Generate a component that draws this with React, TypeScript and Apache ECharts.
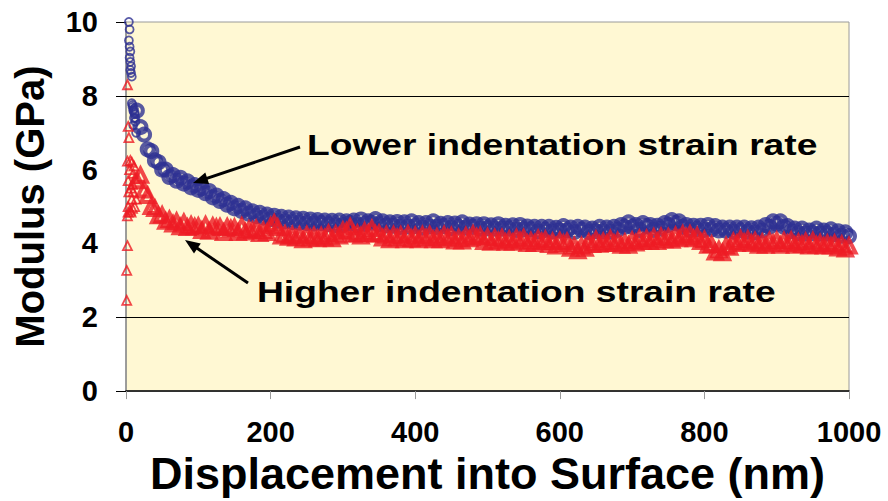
import React, { useEffect, useRef } from "react";
import * as echarts from "echarts";

// Displacement into surface (nm) sampled along the continuous test
const depthNm = [
  15, 20, 25, 30, 35, 40, 45, 50, 55, 60,
  65, 70, 75, 80, 85, 90, 95, 100, 105, 110,
  115, 120, 125, 130, 135, 140, 145, 150, 155, 160,
  165, 170, 175, 180, 185, 190, 195, 200, 205, 210,
  215, 220, 225, 230, 235, 240, 245, 250, 255, 260,
  265, 270, 275, 280, 285, 290, 295, 300, 305, 310,
  315, 320, 325, 330, 335, 340, 345, 350, 355, 360,
  365, 370, 375, 380, 385, 390, 395, 400, 405, 410,
  415, 420, 425, 430, 435, 440, 445, 450, 455, 460,
  465, 470, 475, 480, 485, 490, 495, 500, 505, 510,
  515, 520, 525, 530, 535, 540, 545, 550, 555, 560,
  565, 570, 575, 580, 585, 590, 595, 600, 605, 610,
  615, 620, 625, 630, 635, 640, 645, 650, 655, 660,
  665, 670, 675, 680, 685, 690, 695, 700, 705, 710,
  715, 720, 725, 730, 735, 740, 745, 750, 755, 760,
  765, 770, 775, 780, 785, 790, 795, 800, 805, 810,
  815, 820, 825, 830, 835, 840, 845, 850, 855, 860,
  865, 870, 875, 880, 885, 890, 895, 900, 905, 910,
  915, 920, 925, 930, 935, 940, 945, 950, 955, 960,
  965, 970, 975, 980, 985, 990, 995, 1000,
];

// Modulus (GPa), lower indentation strain rate
const lowerRateModulus = [
  7.6, 7.15, 6.95, 6.55, 6.5, 6.25, 6.2, 6.0, 6.0, 5.8,
  5.85, 5.7, 5.78, 5.62, 5.68, 5.52, 5.58, 5.45, 5.5, 5.36,
  5.42, 5.25, 5.3, 5.15, 5.2, 5.05, 5.1, 4.95, 5.02, 4.88,
  4.95, 4.8, 4.87, 4.74, 4.83, 4.7, 4.78, 4.66, 4.75, 4.62,
  4.72, 4.6, 4.7, 4.58, 4.68, 4.56, 4.67, 4.55, 4.65, 4.54,
  4.63, 4.55, 4.62, 4.52, 4.61, 4.5, 4.62, 4.5, 4.6, 4.55,
  4.62, 4.5, 4.65, 4.53, 4.6, 4.56, 4.66, 4.52, 4.6, 4.49,
  4.57, 4.48, 4.58, 4.45, 4.57, 4.46, 4.6, 4.47, 4.55, 4.43,
  4.55, 4.46, 4.6, 4.45, 4.53, 4.47, 4.55, 4.42, 4.54, 4.45,
  4.57, 4.43, 4.51, 4.45, 4.52, 4.4, 4.52, 4.41, 4.49, 4.4,
  4.52, 4.4, 4.48, 4.4, 4.49, 4.37, 4.5, 4.38, 4.46, 4.38,
  4.45, 4.33, 4.45, 4.37, 4.45, 4.33, 4.42, 4.35, 4.47, 4.35,
  4.43, 4.31, 4.45, 4.37, 4.43, 4.31, 4.4, 4.33, 4.45, 4.33,
  4.43, 4.32, 4.45, 4.37, 4.5, 4.45, 4.57, 4.45, 4.5, 4.37,
  4.55, 4.47, 4.5, 4.37, 4.48, 4.4, 4.55, 4.5, 4.63, 4.55,
  4.6, 4.45, 4.5, 4.37, 4.48, 4.39, 4.48, 4.37, 4.5, 4.38,
  4.47, 4.35, 4.43, 4.34, 4.43, 4.32, 4.43, 4.35, 4.43, 4.32,
  4.41, 4.3, 4.43, 4.35, 4.5, 4.45, 4.6, 4.53, 4.6, 4.45,
  4.47, 4.33, 4.4, 4.28, 4.4, 4.27, 4.35, 4.28, 4.4, 4.27,
  4.35, 4.27, 4.38, 4.25, 4.33, 4.21, 4.3, 4.2,
];

// Modulus (GPa), higher indentation strain rate
const higherRateModulus = [
  5.7, 5.85, 5.45, 5.3, 5.0, 4.95, 4.75, 4.77, 4.6, 4.65,
  4.53, 4.6, 4.45, 4.57, 4.43, 4.5, 4.45, 4.47, 4.35, 4.5,
  4.33, 4.47, 4.43, 4.45, 4.3, 4.45, 4.4, 4.43, 4.3, 4.47,
  4.31, 4.38, 4.35, 4.4, 4.27, 4.35, 4.3, 4.47, 4.55, 4.43,
  4.2, 4.25, 4.17, 4.23, 4.15, 4.22, 4.1, 4.23, 4.15, 4.21,
  4.13, 4.2, 4.15, 4.27, 4.13, 4.25, 4.2, 4.35, 4.33, 4.45,
  4.25, 4.27, 4.2, 4.33, 4.27, 4.4, 4.25, 4.27, 4.15, 4.23,
  4.1, 4.23, 4.15, 4.22, 4.1, 4.25, 4.13, 4.21, 4.1, 4.23,
  4.15, 4.23, 4.1, 4.17, 4.1, 4.23, 4.15, 4.2, 4.07, 4.15,
  4.07, 4.2, 4.13, 4.25, 4.17, 4.2, 4.05, 4.17, 4.03, 4.15,
  4.07, 4.15, 4.03, 4.11, 4.03, 4.15, 4.07, 4.15, 4.0, 4.07,
  4.0, 4.13, 4.05, 4.1, 3.97, 4.05, 3.93, 4.07, 4.0, 4.05,
  3.87, 3.93, 3.8, 3.93, 3.87, 4.03, 3.97, 4.1, 3.98, 4.05,
  4.0, 4.12, 4.0, 4.07, 3.95, 4.03, 3.95, 4.08, 4.01, 4.13,
  4.05, 4.13, 4.05, 4.17, 4.05, 4.18, 4.1, 4.17, 4.09, 4.21,
  4.13, 4.25, 4.17, 4.25, 4.13, 4.2, 4.05, 4.1, 3.95, 3.97,
  3.77, 3.83, 3.75, 3.93, 3.9, 4.05, 4.0, 4.12, 4.03, 4.11,
  4.0, 4.07, 3.95, 4.03, 3.95, 4.07, 4.0, 4.08, 3.95, 4.07,
  4.0, 4.08, 3.95, 4.03, 3.97, 4.05, 3.93, 4.07, 3.95, 4.01,
  3.93, 4.0, 3.93, 4.0, 3.88, 3.97, 3.85, 3.93,
];

// First few nanometres (surface contact scatter)
const lowerEarlyDepth = [4, 5, 4, 5, 6, 5, 6, 7, 6, 7, 8, 8, 9, 10, 11, 12, 10, 13, 14, 9, 11, 12, 13];
const lowerEarlyModulus = [10.0, 9.8, 9.5, 9.33, 9.2, 9.03, 8.92, 8.8, 8.7, 8.62, 8.52, 7.8, 7.7, 7.6, 7.4, 7.5, 7.2, 7.3, 7.0, 7.75, 7.65, 7.55, 7.4];
const higherEarlyDepth = [2, 3, 4, 2, 5, 3, 4, 3, 2, 3, 2, 1, 1, 6, 7, 8, 9, 10, 11, 12, 6, 7, 8, 10, 12, 14, 9];
const higherEarlyModulus = [8.3, 7.17, 6.87, 6.23, 6.0, 5.7, 5.4, 5.0, 4.75, 4.85, 3.94, 3.27, 2.46, 6.25, 5.5, 5.2, 5.6, 5.9, 6.1, 5.75, 4.9, 4.85, 6.2, 5.4, 5.0, 5.2, 4.95];

const yTickMarks = [0, 2, 8, 10];
const yGridLines = [2, 8];

const seriesNames = ["Lower indentation strain rate", "Higher indentation strain rate"];
const xAxisTitle = "Displacement into Surface (nm)";
const yAxisTitle = "Modulus (GPa)";

const BLUE = "#2E3192";
const RED = "#ED1C24";
const FONT = '"Liberation Sans", Arial, Helvetica, sans-serif';

function pairs(xs: number[], ys: number[]) {
  return xs.map((x, i) => [x, ys[i]]);
}

function arrow(x1: number, y1: number, x2: number, y2: number) {
  const dx = x2 - x1;
  const dy = y2 - y1;
  const len = Math.sqrt(dx * dx + dy * dy);
  const ux = dx / len;
  const uy = dy / len;
  const headLen = 15;
  const headHalf = 6;
  const bx = x2 - ux * headLen;
  const by = y2 - uy * headLen;
  const nx = -uy;
  const ny = ux;
  return [
    {
      type: "line",
      shape: { x1, y1, x2: bx + ux * 2, y2: by + uy * 2 },
      style: { stroke: "#000", lineWidth: 3 },
      silent: true,
      z: 100,
    },
    {
      type: "polygon",
      shape: {
        points: [
          [x2, y2],
          [bx + nx * headHalf, by + ny * headHalf],
          [bx - nx * headHalf, by - ny * headHalf],
        ],
      },
      style: { fill: "#000" },
      silent: true,
      z: 100,
    },
  ];
}

export default function App() {
  const ref = useRef<HTMLDivElement>(null);

  useEffect(() => {
    if (!ref.current) return;
    const chart = echarts.init(ref.current, null, { renderer: "svg" });

    const option: any = {
      animation: false,
      backgroundColor: "#ffffff",
      grid: {
        left: 126,
        right: 39,
        top: 22,
        bottom: 108,
        show: true,
        backgroundColor: "#FFF8D3",
        borderColor: "#9a9a9a",
        borderWidth: 1,
      },
      xAxis: {
        type: "value",
        min: 0,
        max: 1000,
        interval: 200,
        name: xAxisTitle,
        nameLocation: "middle",
        nameGap: 58,
        nameTextStyle: { fontSize: 45, fontWeight: "bold", color: "#000", fontFamily: FONT },
        axisLine: { show: true, lineStyle: { color: "#000", width: 1.5 } },
        axisTick: { show: true, length: 8, lineStyle: { color: "#9a9a9a", width: 1 } },
        axisLabel: {
          margin: 26,
          fontSize: 29,
          fontWeight: "bold",
          color: "#000",
          fontFamily: FONT,
          formatter: (v: number) => String(v),
        },
        splitLine: { show: false },
      },
      yAxis: {
        type: "value",
        min: 0,
        max: 10,
        interval: 2,
        name: yAxisTitle,
        nameLocation: "middle",
        nameGap: 76,
        nameTextStyle: { fontSize: 40, fontWeight: "bold", color: "#000", fontFamily: FONT },
        axisLine: { show: true, lineStyle: { color: "#8c8c8c", width: 1.5 } },
        axisTick: {
          show: true,
          length: 10,
          customValues: yTickMarks,
          lineStyle: { color: "#000", width: 1 },
        },
        axisLabel: {
          margin: 28,
          fontSize: 29,
          fontWeight: "bold",
          color: "#000",
          fontFamily: FONT,
          formatter: (v: number) => String(v),
        },
        splitLine: { show: false },
      },
      series: [
        {
          name: seriesNames[0],
          type: "scatter",
          data: pairs(depthNm, lowerRateModulus),
          symbol: "circle",
          symbolSize: 12,
          itemStyle: { color: "rgba(0,0,0,0)", borderColor: BLUE, borderWidth: 4 },
          markLine: {
            silent: true,
            symbol: "none",
            label: { show: false },
            lineStyle: { color: "#000", width: 1, type: "solid" },
            data: yGridLines.map((v) => ({ yAxis: v })),
          },
        },
        {
          name: seriesNames[0],
          type: "scatter",
          data: pairs(lowerEarlyDepth, lowerEarlyModulus),
          symbol: "circle",
          symbolSize: 8,
          itemStyle: { color: "rgba(0,0,0,0)", borderColor: BLUE, borderWidth: 1.8 },
        },
        {
          name: seriesNames[1],
          type: "scatter",
          data: pairs(depthNm, higherRateModulus),
          symbol: "triangle",
          symbolSize: 13,
          itemStyle: { color: "rgba(0,0,0,0)", borderColor: RED, borderWidth: 4 },
        },
        {
          name: seriesNames[1],
          type: "scatter",
          data: pairs(higherEarlyDepth, higherEarlyModulus),
          symbol: "triangle",
          symbolSize: 9,
          itemStyle: { color: "rgba(0,0,0,0)", borderColor: RED, borderWidth: 1.8 },
        },
      ],
      graphic: [
        ...arrow(300, 147, 193, 183),
        ...arrow(248, 283, 185, 240),
        {
          type: "text",
          x: 307,
          y: 144,
          scaleX: 1.24,
          style: {
            text: seriesNames[0],
            fill: "#000",
            font: `bold 30px ${FONT}`,
            align: "left",
            verticalAlign: "middle",
          },
          silent: true,
        },
        {
          type: "text",
          x: 257,
          y: 291,
          scaleX: 1.24,
          style: {
            text: seriesNames[1],
            fill: "#000",
            font: `bold 30px ${FONT}`,
            align: "left",
            verticalAlign: "middle",
          },
          silent: true,
        },
      ],
    };

    chart.setOption(option);
    return () => chart.dispose();
  }, []);

  return (
    <div
      ref={ref}
      style={{ position: "fixed", left: 0, top: 0, width: 888, height: 501, background: "#fff" }}
    />
  );
}
